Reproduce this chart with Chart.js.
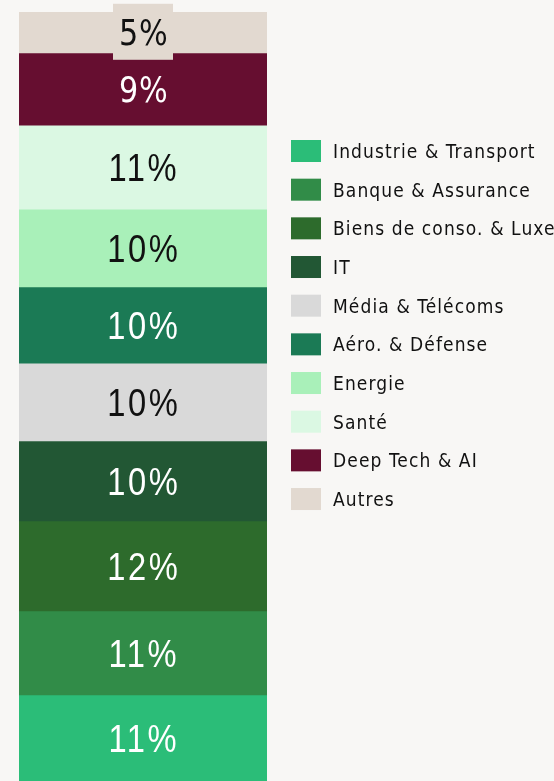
<!DOCTYPE html>
<html>
<head>
<meta charset="utf-8">
<script src="https://cdn.jsdelivr.net/npm/chart.js@4"></script>
<style>
  html, body { margin: 0; padding: 0; background: #f8f7f5; }
  #wrap { width: 554px; height: 781px; position: relative; }
  canvas { display: block; }
</style>
</head>
<body>
<div id="wrap"><canvas id="c" width="554" height="781"></canvas></div>
<script>
// Sectors, bottom to top of the stacked bar
const sectors = [
  "Industrie & Transport",
  "Banque & Assurance",
  "Biens de conso. & Luxe",
  "IT",
  "Média & Télécoms",
  "Aéro. & Défense",
  "Energie",
  "Santé",
  "Deep Tech & AI",
  "Autres"
];
// Shares in % (labels show rounded values)
const shares = [11.1, 10.9, 11.7, 10.4, 10.1, 9.9, 10.1, 10.9, 9.4, 5.4];
const sectorColors = [
  "#2bbd78", "#318c48", "#2d6b2c", "#225734", "#d9d9d9",
  "#1b7a55", "#a9f0b9", "#dbf8e3", "#660e30", "#e2d9d0"
];
const labelColors = [
  "#ffffff", "#ffffff", "#ffffff", "#ffffff", "#111111",
  "#ffffff", "#111111", "#111111", "#ffffff", "#111111"
];
const categories = [""];

const total = shares.reduce((a, b) => a + b, 0);

const datasets = sectors.map((name, i) => ({
  label: name,
  data: [shares[i]],
  backgroundColor: sectorColors[i],
  borderWidth: 0,
  stack: "s",
  barPercentage: 1,
  categoryPercentage: 1
}));

const valueLabels = {
  id: "valueLabels",
  afterDatasetsDraw(chart) {
    const ctx = chart.ctx;
    chart.data.datasets.forEach((ds, i) => {
      const el = chart.getDatasetMeta(i).data[0];
      if (!el) return;
      const cx = el.x;
      const cy = (el.y + el.base) / 2;
      const txt = Math.round(ds.data[0]) + "%";
      const top = i >= sectors.length - 2;
      ctx.save();
      if (i === sectors.length - 1) {
        ctx.fillStyle = sectorColors[i];
        ctx.fillRect(cx - 30, cy - 29, 60, 56);
      }
      ctx.translate(cx, cy + 3);
      if (top) {
        ctx.scale(0.84, 1);
        ctx.font = "36px 'DejaVu Sans', sans-serif";
        ctx.letterSpacing = "1px";
      } else {
        ctx.scale(0.86, 1);
        ctx.font = "38px 'Liberation Sans', Arial, sans-serif";
        ctx.letterSpacing = "3px";
      }
      ctx.fillStyle = labelColors[i];
      ctx.textAlign = "center";
      ctx.textBaseline = "middle";
      ctx.fillText(txt, 1, 0);
      ctx.restore();
    });
  }
};

const sideLegend = {
  id: "sideLegend",
  afterDraw(chart) {
    const ctx = chart.ctx;
    ctx.save();
    ctx.font = "19px 'DejaVu Sans Condensed', 'DejaVu Sans', sans-serif";
    ctx.letterSpacing = "1.1px";
    ctx.textBaseline = "middle";
    ctx.textAlign = "left";
    chart.data.datasets.forEach((ds, i) => {
      const cy = 151 + i * 38.67;
      ctx.fillStyle = ds.backgroundColor;
      ctx.fillRect(291, cy - 11, 30, 22);
      ctx.fillStyle = "#111111";
      ctx.fillText(ds.label, 333, cy + 2);
    });
    ctx.restore();
  }
};

new Chart(document.getElementById("c"), {
  type: "bar",
  data: { labels: categories, datasets: datasets },
  options: {
    responsive: false,
    animation: false,
    devicePixelRatio: 1,
    layout: { padding: { left: 19, right: 287, top: 12, bottom: 0 } },
    plugins: { legend: { display: false }, tooltip: { enabled: false } },
    scales: {
      x: { stacked: true, display: false },
      y: { stacked: true, display: false, min: 0, max: total }
    }
  },
  plugins: [valueLabels, sideLegend]
});
</script>
</body>
</html>
